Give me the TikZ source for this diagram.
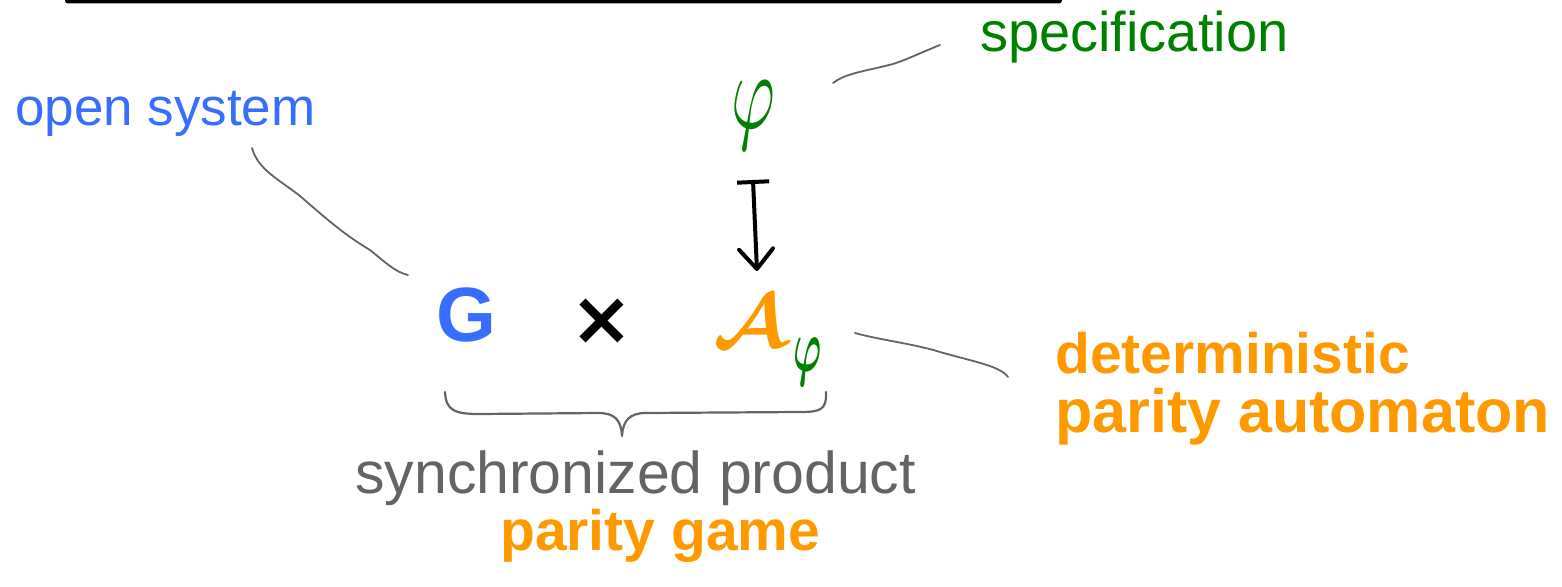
\documentclass[tikz,border=0pt]{standalone}
\usepackage{amsmath,bm}
\usepackage{fontspec}
\setmainfont{Liberation Sans}
\newfontfamily\crossfont{DejaVu Sans}
\usetikzlibrary{arrows.meta}
\definecolor{sysblue}{RGB}{55,110,255}
\definecolor{specgreen}{RGB}{0,128,0}
\definecolor{autorange}{RGB}{255,153,0}
\definecolor{notegray}{RGB}{100,100,100}
\newcommand{\fs}[1]{\fontsize{#1}{#1}\selectfont}
\begin{document}
\begin{tikzpicture}[x=1pt,y=-1pt,
  lbl/.style={inner sep=0pt, anchor=base west},
  sym/.style={inner sep=0pt},
  pointer/.style={draw=notegray, line width=1.8pt, line cap=round, line join=round},
  mapsto/.style={line width=4pt, line cap=round,
    {Bar[width=32pt]}-{Straight Barb[length=20pt,width=34pt,round]}}]
\useasboundingbox (0,0) rectangle (1562,586);

% heavy rule along the top edge
\fill[rounded corners=3pt] (65,-8) rectangle (1062,3.5);

% labels
\node[lbl, text=sysblue, font=\fs{53}] (sys) at (15,125) {open system};
\node[lbl, text=specgreen, font=\fs{56}] (spec) at (980,52) {specification};
\node[lbl, text=autorange, font=\fs{57}\bfseries] (det) at (1055,373) {deterministic};
\node[lbl, text=autorange, font=\fs{61}\bfseries] (aut) at (1055,432) {parity automaton};
\node[lbl, text=notegray, font=\fs{59}] (sync) at (355,493) {synchronized product};
\node[lbl, text=autorange, font=\fs{57}\bfseries] (game) at (500,550) {parity game};

% formula G x A_phi, with phi above it
\node[sym, text=specgreen] (phi) at (753,116) {\scalebox{6.7}[11]{$\varphi$}};
\node[sym, text=sysblue, font=\fs{77}\bfseries] (G) at (466,315) {G};
\node[sym, font=\fs{75}\crossfont\bfseries] (times) at (602,322) {×};
\node[sym, text=autorange] (A) at (750,321) {\scalebox{8}[7.6]{$\bm{\mathcal{A}}$}};
\node[sym, text=specgreen] (Aphi) at (808,362) {\scalebox{3.8}[7.5]{$\bm{\varphi}$}};

% specification maps to its automaton
\coordinate (mapfrom) at (753,180);
\coordinate (mapto) at (757,271);
\draw[mapsto] (mapfrom) -- (mapto);

% pointers from labels to the formula
\coordinate (sysA) at (252,148);
\coordinate (sysB) at (408,275);
\draw[pointer] (sysA) .. controls (258,170) and (280,180) .. (300,196)
  .. controls (330,222) and (345,235) .. (370,250)
  .. controls (385,262) and (395,272) .. (sysB);
\coordinate (specA) at (940,45);
\coordinate (specB) at (833,83);
\draw[pointer] (specA) .. controls (915,55) and (900,63) .. (885,66)
  .. controls (860,72) and (845,74) .. (specB);
\coordinate (detA) at (855,333);
\coordinate (detB) at (1008,377);
\draw[pointer] (detA) .. controls (880,340) and (915,344) .. (940,352)
  .. controls (975,362) and (1000,366) .. (detB);

% brace under the product
\draw[pointer, line width=2.2pt] (445,392) .. controls (446,411) and (455,414) .. (480,414)
  -- (598,413) .. controls (615,413) and (621,420) .. (622,436)
  .. controls (623,420) and (630,413) .. (646,413)
  -- (800,412) .. controls (820,412) and (827,410) .. (826,392);
\end{tikzpicture}
\end{document}
